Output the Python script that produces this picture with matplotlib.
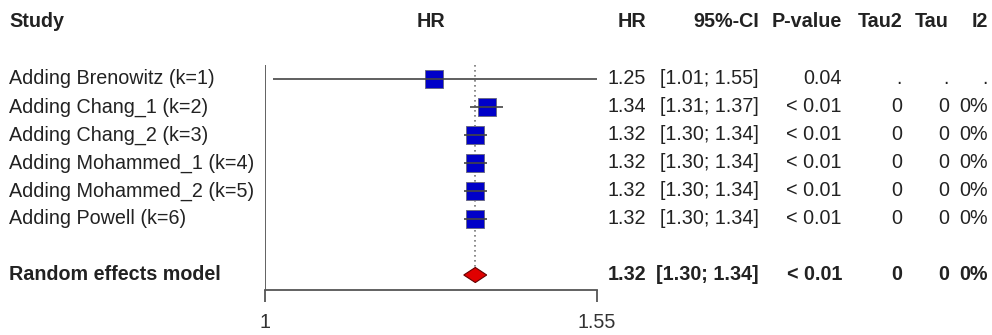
import numpy as np
import matplotlib.pyplot as plt
from matplotlib.ticker import NullLocator
from matplotlib.transforms import blended_transform_factory

# cumulative meta-analysis results
studies = ["Adding Brenowitz (k=1)", "Adding Chang_1 (k=2)", "Adding Chang_2 (k=3)",
           "Adding Mohammed_1 (k=4)", "Adding Mohammed_2 (k=5)", "Adding Powell (k=6)"]
hr = [1.25, 1.34, 1.32, 1.32, 1.32, 1.32]
ci_lo = [1.01, 1.31, 1.30, 1.30, 1.30, 1.30]
ci_hi = [1.55, 1.37, 1.34, 1.34, 1.34, 1.34]
pvals = ["0.04", "< 0.01", "< 0.01", "< 0.01", "< 0.01", "< 0.01"]
tau2 = [".", "0", "0", "0", "0", "0"]
tau = [".", "0", "0", "0", "0", "0"]
i2 = [".", "0%", "0%", "0%", "0%", "0%"]

summary_label = "Random effects model"
summary_hr, summary_lo, summary_hi = 1.32, 1.30, 1.34
summary_p, summary_tau2, summary_tau, summary_i2 = "< 0.01", "0", "0", "0%"

xticks = [1, 1.55]
xtick_labels = ["1", "1.55"]

W, H = 992, 335
TXT = "#222222"
LINE = "#555555"

plt.rcParams["font.family"] = ["Liberation Sans", "DejaVu Sans"]
FS = 14.2

fig = plt.figure(figsize=(W / 100, H / 100), dpi=100)
# forest panel spans pixels 265..597 horizontally, 65..290 vertically
ax = fig.add_axes([265 / W, (H - 290) / H, 332 / W, 225 / H])

n = len(studies)
rows = np.arange(n)
sum_row = n + 1
ax.set_ylim((290 - 79) / 28, (65 - 79) / 28)
ax.set_xscale("log")
ax.set_xlim(xticks[0], xticks[-1])

# reference line at HR = 1 and pooled estimate
ax.axvline(1.0, color=LINE, lw=1.3, zorder=1)
dh = 0.27
ax.vlines(summary_hr, (65 - 79) / 28, sum_row - dh, colors="#777777",
          linestyles=(0, (1, 2)), lw=1.2, zorder=1)

# study estimates
ax.plot(hr, rows, ls="none", marker="s", ms=13.6, mfc="#0000C8",
        mec="#6a6a8a", mew=0.7, zorder=3)
ax.hlines(rows, ci_lo, ci_hi, colors="#444444", lw=1.2, zorder=4, clip_on=False)

# pooled diamond
ax.fill([summary_lo, summary_hr, summary_hi, summary_hr],
        [sum_row, sum_row - dh, sum_row, sum_row + dh],
        facecolor="#E00000", edgecolor="#660000", lw=0.8, zorder=3)

for s in ["top", "right", "left"]:
    ax.spines[s].set_visible(False)
ax.spines["bottom"].set_color(LINE)
ax.spines["bottom"].set_linewidth(1.3)
ax.set_yticks([])
ax.xaxis.set_minor_locator(NullLocator())
ax.set_xticks(xticks)
ax.set_xticklabels(xtick_labels)
ax.tick_params(axis="x", length=8.5, width=1.3, color=LINE, pad=8,
               labelsize=FS, labelcolor="#333333")

tr = blended_transform_factory(fig.transFigure, ax.transData)
head_y = (22 - 79) / 28


def put(xpx, y, s, ha="right", bold=False):
    fig.text(xpx / W, y, s, transform=tr, ha=ha, va="center", fontsize=FS,
             color=TXT, fontweight="bold" if bold else "normal")


# column headers
put(9, head_y, "Study", ha="left", bold=True)
put(431, head_y, "HR", ha="center", bold=True)
cols = [646, 759, 842, 902, 949, 988]
for x, h in zip(cols, ["HR", "95%-CI", "P-value", "Tau2", "Tau", "I2"]):
    put(x, head_y, h, bold=True)

for i in range(n):
    put(9, rows[i], studies[i], ha="left")
    put(cols[0], rows[i], f"{hr[i]:.2f}")
    put(cols[1], rows[i], f"[{ci_lo[i]:.2f}; {ci_hi[i]:.2f}]")
    put(cols[2], rows[i], pvals[i])
    put(cols[3], rows[i], tau2[i])
    put(cols[4], rows[i], tau[i])
    put(cols[5], rows[i], i2[i])

put(9, sum_row, summary_label, ha="left", bold=True)
put(cols[0], sum_row, f"{summary_hr:.2f}", bold=True)
put(cols[1], sum_row, f"[{summary_lo:.2f}; {summary_hi:.2f}]", bold=True)
put(cols[2], sum_row, summary_p, bold=True)
put(cols[3], sum_row, summary_tau2, bold=True)
put(cols[4], sum_row, summary_tau, bold=True)
put(cols[5], sum_row, summary_i2, bold=True)

fig.savefig("out.png", dpi=100, facecolor="white")
